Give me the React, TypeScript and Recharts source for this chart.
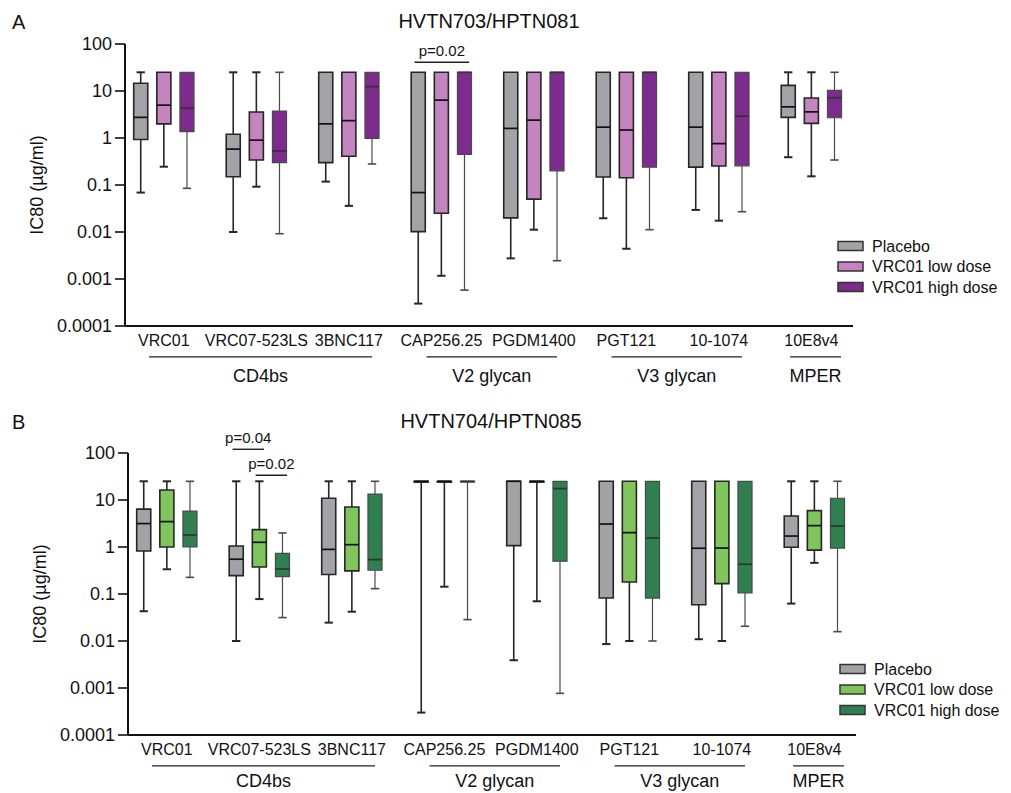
import { ScatterChart, Scatter, XAxis, YAxis, ReferenceArea, ReferenceLine } from "recharts";

const FONT = '"Liberation Sans", Arial, Helvetica, sans-serif';

const antibodies = ["VRC01", "VRC07-523LS", "3BNC117", "CAP256.25", "PGDM1400", "PGT121", "10-1074", "10E8v4"];
const epitopes = ["CD4bs", "V2 glycan", "V3 glycan", "MPER"];
const epitopeFirst = [0, 3, 5, 7];
const epitopeLast = [2, 4, 6, 7];
const yTicks = [0.0001, 0.001, 0.01, 0.1, 1, 10, 100];
const treatments = ["Placebo", "VRC01 low dose", "VRC01 high dose"];

// IC80 per antibody: [min, q1, median, q3, max]
const hvtn703Placebo = [
  [0.069, 0.93, 2.75, 14.6, 25],
  [0.01, 0.15, 0.58, 1.2, 25],
  [0.118, 0.3, 2.0, 25, 25],
  [0.0003, 0.0102, 0.069, 25, 25],
  [0.00275, 0.02, 1.6, 25, 25],
  [0.0196, 0.148, 1.7, 25, 25],
  [0.0295, 0.24, 1.7, 25, 25],
  [0.39, 2.75, 4.6, 13.2, 25],
];
const hvtn703Low = [
  [0.245, 2.0, 5.0, 25, 25],
  [0.092, 0.34, 0.9, 3.57, 25],
  [0.036, 0.41, 2.34, 25, 25],
  [0.00117, 0.025, 6.4, 25, 25],
  [0.0112, 0.05, 2.4, 25, 25],
  [0.0044, 0.143, 1.48, 25, 25],
  [0.0174, 0.254, 0.76, 25, 25],
  [0.153, 2.05, 3.6, 7.1, 25],
];
const hvtn703High = [
  [0.085, 1.36, 4.3, 25, 25],
  [0.0092, 0.3, 0.53, 3.75, 25],
  [0.28, 0.98, 12.4, 25, 25],
  [0.00058, 0.45, 25, 25, 25],
  [0.00245, 0.2, 25, 25, 25],
  [0.0112, 0.24, 25, 25, 25],
  [0.027, 0.256, 2.9, 25, 25],
  [0.34, 2.7, 7.2, 10.3, 25],
];

const hvtn704Placebo = [
  [0.043, 0.82, 3.15, 6.4, 25],
  [0.01, 0.246, 0.55, 1.05, 25],
  [0.0246, 0.26, 0.89, 10.9, 25],
  [0.0003, 24, 25, 25, 25],
  [0.0039, 1.07, 25, 25, 25],
  [0.0086, 0.082, 3.08, 25, 25],
  [0.0109, 0.059, 0.94, 25, 25],
  [0.0625, 0.99, 1.71, 4.57, 25],
];
const hvtn704Low = [
  [0.336, 1.0, 3.47, 16.3, 25],
  [0.078, 0.375, 1.26, 2.34, 25],
  [0.042, 0.31, 1.12, 7.1, 25],
  [0.143, 24, 25, 25, 25],
  [0.07, 24, 25, 25, 25],
  [0.01, 0.18, 2.02, 25, 25],
  [0.01, 0.166, 0.95, 25, 25],
  [0.46, 0.86, 2.85, 5.95, 25],
];
const hvtn704High = [
  [0.226, 1.0, 1.8, 5.8, 25],
  [0.0315, 0.234, 0.34, 0.73, 1.99],
  [0.13, 0.32, 0.54, 13.4, 25],
  [0.0285, 24, 25, 25, 25],
  [0.00077, 0.5, 17.5, 25, 25],
  [0.01, 0.082, 1.55, 25, 25],
  [0.0206, 0.105, 0.43, 25, 25],
  [0.0158, 0.95, 2.8, 10.9, 25],
];

// significance brackets: antibody, two treatments, label
const pValues703 = [{ antibody: 3, a: 0, b: 2, text: "p=0.02" }];
const pValues704 = [
  { antibody: 1, a: 0, b: 1, text: "p=0.04" },
  { antibody: 1, a: 1, b: 2, text: "p=0.02" },
];
const bracketLevel703 = [41];
const bracketLevel704 = [120, 33.6];

const GREY = "#a3a3a7";
const purpleFills = [GREY, "#c384bf", "#7e2b8e"];
const greenFills = [GREY, "#7fc45c", "#2f7f50"];
const boxStroke = ["#262626", "#262626", "#4a4a4a"];
const boxStrokeWidth = [1.6, 1.6, 1.2];

const OFFSETS = [-0.25, 0, 0.25];
const BOX_HALF = 0.076;
const CAP_HALF = 0.045;
const GROUP_LINE_Y = 2.2e-5;

function Panel({
  series,
  fills,
  pvals,
  levels,
  height,
  groupLabelOffset,
}: {
  series: number[][][];
  fills: string[];
  pvals: { antibody: number; a: number; b: number; text: string }[];
  levels: number[];
  height: number;
  groupLabelOffset: number;
}) {
  const marks: any[] = [];
  series.forEach((rows, t) => {
    const stroke = boxStroke[t];
    const sw = boxStrokeWidth[t];
    rows.forEach(([mn, q1, , q3, mx], i) => {
      const x = i + OFFSETS[t];
      const k = `${t}-${i}`;
      if (mx > q3) {
        marks.push(
          <ReferenceLine key={`wu${k}`} segment={[{ x, y: q3 }, { x, y: mx }]} stroke={stroke} strokeWidth={sw} ifOverflow="visible" />,
          <ReferenceLine key={`cu${k}`} segment={[{ x: x - CAP_HALF, y: mx }, { x: x + CAP_HALF, y: mx }]} stroke={stroke} strokeWidth={sw + 0.4} ifOverflow="visible" />
        );
      }
      if (mn < q1) {
        marks.push(
          <ReferenceLine key={`wl${k}`} segment={[{ x, y: mn }, { x, y: q1 }]} stroke={stroke} strokeWidth={sw} ifOverflow="visible" />,
          <ReferenceLine key={`cl${k}`} segment={[{ x: x - CAP_HALF, y: mn }, { x: x + CAP_HALF, y: mn }]} stroke={stroke} strokeWidth={sw + 0.4} ifOverflow="visible" />
        );
      }
      marks.push(
        <ReferenceArea
          key={`b${k}`}
          x1={x - BOX_HALF}
          x2={x + BOX_HALF}
          y1={q1}
          y2={q3}
          fill={fills[t]}
          fillOpacity={1}
          stroke={stroke}
          strokeWidth={sw}
          ifOverflow="visible"
        />
      );
    });
  });

  return (
    <ScatterChart width={1011} height={height} margin={{ top: 44, right: 158, bottom: height - 356, left: 5 }}>
      <XAxis
        type="number"
        dataKey="x"
        domain={[-0.42, 7.45]}
        ticks={antibodies.map((_, i) => i)}
        interval={0}
        tickFormatter={(v) => antibodies[v]}
        allowDataOverflow
        height={30}
        tickLine={false}
        tickSize={0}
        tickMargin={9}
        axisLine={{ stroke: "#111", strokeWidth: 2 }}
        tick={{ fontSize: 16, fill: "#111" }}
      />
      <YAxis
        type="number"
        dataKey="y"
        scale="log"
        domain={[0.0001, 100]}
        ticks={yTicks}
        interval={0}
        allowDataOverflow
        tickFormatter={(v) => String(v)}
        width={120}
        tickSize={10}
        tickMargin={3}
        axisLine={{ stroke: "#111", strokeWidth: 2 }}
        tickLine={{ stroke: "#111", strokeWidth: 1.6 }}
        tick={{ fontSize: 18, fill: "#111" }}
        label={{
          value: "IC80 (µg/ml)",
          angle: -90,
          position: "insideLeft",
          offset: 32,
          fontSize: 18,
          fill: "#111",
          style: { textAnchor: "middle" },
        }}
      />
      {marks}
      {epitopes.map((name, g) => (
        <ReferenceLine
          key={name}
          segment={[
            { x: epitopeFirst[g] - (epitopeFirst[g] === epitopeLast[g] ? 0.23 : 0.16), y: GROUP_LINE_Y },
            { x: epitopeLast[g] + (epitopeFirst[g] === epitopeLast[g] ? 0.32 : 0.25), y: GROUP_LINE_Y },
          ]}
          stroke="#222"
          strokeWidth={1.4}
          ifOverflow="visible"
          label={{ value: name, position: "bottom", offset: groupLabelOffset, fontSize: 18, fill: "#111" }}
        />
      ))}
      {pvals.map((p, j) => (
        <ReferenceLine
          key={`p${j}`}
          segment={[
            { x: p.antibody + OFFSETS[p.a] - 0.04, y: levels[j] },
            { x: p.antibody + OFFSETS[p.b] + 0.05, y: levels[j] },
          ]}
          stroke="#222"
          strokeWidth={1.4}
          ifOverflow="visible"
          label={{ value: p.text, position: "top", offset: 6, fontSize: 15, fill: "#111" }}
        />
      ))}
      {series.map((rows, t) => (
        <Scatter
          key={treatments[t]}
          name={treatments[t]}
          data={rows.map((r, i) => ({ x: i + OFFSETS[t], y: r[2] }))}
          dataKey="y"
          isAnimationActive={false}
          shape={(props: any) => (
            <line
              x1={props.cx - 7}
              x2={props.cx + 7}
              y1={props.cy}
              y2={props.cy}
              stroke={t === 2 ? "#333" : "#111"}
              strokeWidth={1.7}
            />
          )}
        />
      ))}
    </ScatterChart>
  );
}

function LegendBlock({ x, y, fills }: { x: number; y: number; fills: string[] }) {
  return (
    <g>
      {treatments.map((name, t) => (
        <g key={name}>
          <rect x={x} y={y + t * 20.5 - 4.5} width={25} height={9} fill={fills[t]} stroke="#333" strokeWidth={1.5} />
          <text x={x + 34} y={y + t * 20.5 + 5.7} fontSize={16} fill="#111">
            {name}
          </text>
        </g>
      ))}
    </g>
  );
}

export default function App() {
  return (
    <div style={{ position: "absolute", left: 0, top: 0, width: 1011, height: 793, overflow: "hidden", background: "#fff", fontFamily: FONT }}>
      <div style={{ position: "absolute", left: 0, top: 0 }}>
        <Panel series={[hvtn703Placebo, hvtn703Low, hvtn703High]} fills={purpleFills} pvals={pValues703} levels={bracketLevel703} height={400} groupLabelOffset={12} />
      </div>
      <div style={{ position: "absolute", left: 3, top: 409 }}>
        <Panel series={[hvtn704Placebo, hvtn704Low, hvtn704High]} fills={greenFills} pvals={pValues704} levels={bracketLevel704} height={384} groupLabelOffset={8} />
      </div>
      <svg width={1011} height={793} style={{ position: "absolute", left: 0, top: 0, pointerEvents: "none", fontFamily: FONT }}>
        <text x={12} y={29} fontSize={20} fill="#111">A</text>
        <text x={489} y={28} fontSize={20} fill="#111" textAnchor="middle">HVTN703/HPTN081</text>
        <LegendBlock x={838} y={246} fills={purpleFills} />
        <text x={12} y={429} fontSize={20} fill="#111">B</text>
        <text x={491} y={428} fontSize={20} fill="#111" textAnchor="middle">HVTN704/HPTN085</text>
        <LegendBlock x={840} y={669} fills={greenFills} />
      </svg>
    </div>
  );
}
